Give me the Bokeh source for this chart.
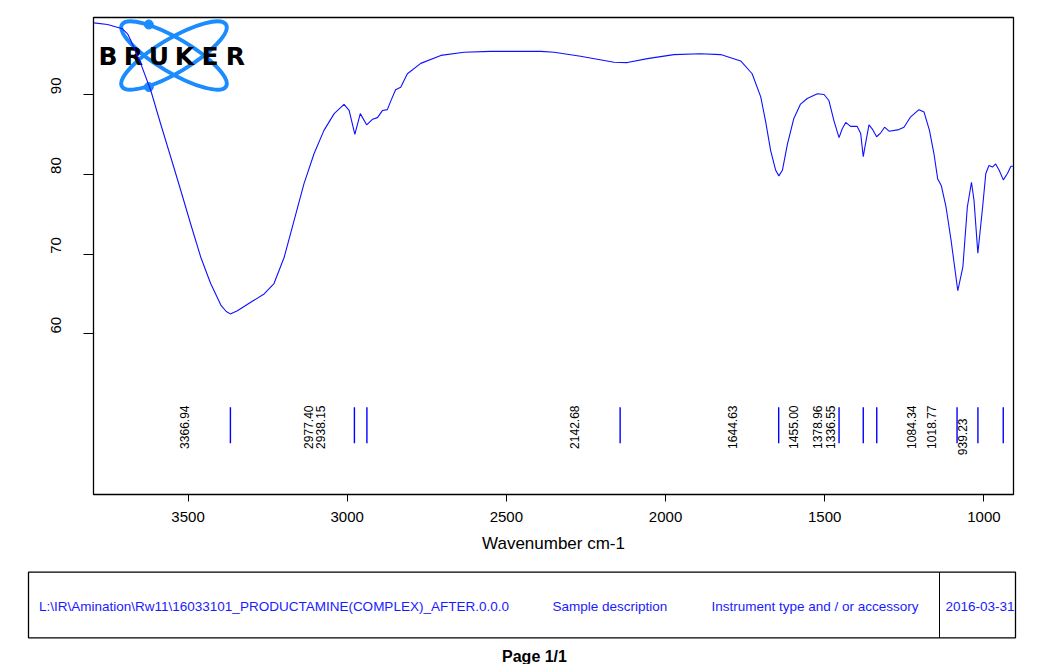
import math
from bokeh.plotting import figure
from bokeh.models import Range1d, FixedTicker, ColumnDataSource, LinearAxis
from bokeh.layouts import column
from bokeh.embed import file_html
from bokeh.resources import INLINE
from bokeh.core.properties import value

# ---------------- data ----------------
wavenumber = [3795, 3753, 3706, 3690, 3680, 3648, 3617, 3586, 3554, 3523,
              3492, 3460, 3429, 3397, 3380, 3367, 3345, 3313, 3293, 3261,
              3230, 3198, 3167, 3136, 3104, 3073, 3041, 3010, 2994, 2976,
              2959, 2939, 2920, 2905, 2889, 2874, 2863, 2848, 2832, 2811,
              2769, 2706, 2633, 2550, 2476, 2392, 2350, 2267, 2162, 2120,
              2057, 1974, 1890, 1827, 1764, 1728, 1701, 1686, 1670, 1654,
              1644, 1633, 1617, 1597, 1576, 1555, 1523, 1502, 1487, 1471,
              1455, 1445, 1434, 1419, 1398, 1387, 1379, 1372, 1361, 1351,
              1337, 1324, 1312, 1298, 1267, 1251, 1230, 1204, 1188, 1171,
              1157, 1145, 1134, 1119, 1103, 1082, 1066, 1052, 1039, 1031,
              1019, 1004, 994, 984, 973, 963, 952, 939, 926, 915, 907]
transmittance = [98.98, 98.77, 98.23, 97.6, 96.8, 93.8, 90.5, 86.3, 82.1, 78.0,
                 73.8, 69.6, 66.3, 63.6, 62.8, 62.5, 62.9, 63.7, 64.2, 65.0,
                 66.3, 69.6, 74.2, 78.8, 82.6, 85.5, 87.6, 88.75, 88.0, 85.0,
                 87.6, 86.2, 86.9, 87.1, 88.0, 88.1, 89.2, 90.6, 90.9, 92.6,
                 93.9, 94.9, 95.3, 95.4, 95.4, 95.4, 95.3, 94.8, 94.05, 94.0,
                 94.5, 95.0, 95.1, 95.0, 94.2, 92.6, 89.7, 86.7, 83.0, 80.5,
                 79.8, 80.5, 83.8, 87.0, 88.8, 89.5, 90.1, 90.0, 89.25, 86.7,
                 84.6, 85.7, 86.5, 86.0, 86.0, 85.1, 82.2, 83.8, 86.2, 85.7,
                 84.7, 85.2, 85.9, 85.4, 85.6, 85.9, 87.2, 88.1, 87.8, 85.5,
                 82.6, 79.4, 78.6, 75.9, 71.7, 65.4, 68.4, 75.9, 79.0, 76.7,
                 70.1, 75.9, 80.1, 81.1, 80.9, 81.3, 80.5, 79.3, 80.1, 81.0, 81.0]

peak_wavenumbers = [3366.94, 2977.40, 2938.15, 2142.68, 1644.63, 1455.00,
                    1378.96, 1336.55, 1084.34, 1018.77, 939.23]
peak_labels = ["3366.94", "2977.40", "2938.15", "2142.68", "1644.63", "1455.00",
               "1378.96", "1336.55", "1084.34", "1018.77", "939.23"]

x_ticks = [3500, 3000, 2500, 2000, 1500, 1000]
y_ticks = [60, 70, 80, 90]
x_axis_title = "Wavenumber cm-1"

footer_path = "L:\\IR\\Amination\\Rw11\\16033101_PRODUCTAMINE(COMPLEX)_AFTER.0.0.0"
footer_sample = "Sample description"
footer_instrument = "Instrument type and / or accessory"
footer_date = "2016-03-31"
page_text = "Page 1/1"
logo_text = "BRUKER"

# ---------------- layout ----------------
X_START, X_END = 3797, 907
Y_START, Y_END = 39.86, 99.65
FRAME_L, FRAME_T, FRAME_W, FRAME_H = 93, 17, 920, 477
FONT = "Liberation Sans"
CURVE_BLUE = "#1010ff"
LOGO_BLUE = "#1a8cff"


def px_x(px):
    return X_START + (px - FRAME_L) * (X_END - X_START) / FRAME_W


def px_y(py):
    return Y_END - (py - FRAME_T) * (Y_END - Y_START) / FRAME_H


p = figure(width=1040, height=560, output_backend="svg", toolbar_location=None,
           x_range=Range1d(X_START, X_END), y_range=Range1d(Y_START, Y_END),
           min_border_left=FRAME_L, min_border_right=1040 - FRAME_L - FRAME_W,
           min_border_top=FRAME_T, min_border_bottom=560 - FRAME_T - FRAME_H,
           frame_align=False)
p.background_fill_color = "white"
p.border_fill_color = "white"
p.outline_line_color = "black"
p.outline_line_width = 1.3
p.grid.visible = False

xax = p.xaxis[0]
xax.ticker = FixedTicker(ticks=x_ticks)
xax.major_tick_out = 7
xax.major_tick_in = 0
xax.minor_tick_line_color = None
xax.axis_line_color = "black"
xax.major_tick_line_color = "black"
xax.major_label_text_font = FONT
xax.major_label_text_font_size = "15px"
xax.major_label_text_color = "black"
xax.major_label_standoff = 10
xax.axis_label = x_axis_title
xax.axis_label_text_font = FONT
xax.axis_label_text_font_size = "17px"
xax.axis_label_text_font_style = "normal"
xax.axis_label_text_color = "black"
xax.axis_label_standoff = 9

# inner y axis: tick marks only
yax = p.yaxis[0]
yax.ticker = FixedTicker(ticks=y_ticks)
yax.major_tick_out = 10
yax.major_tick_in = 0
yax.minor_tick_line_color = None
yax.axis_line_color = "black"
yax.major_tick_line_color = "black"
yax.major_label_overrides = {v: "" for v in y_ticks}
yax.major_label_standoff = 0

# outer y axis: tick labels, shifted so that each label starts at its tick
shift = (94 - 77) * (Y_END - Y_START) / FRAME_H
p.extra_y_ranges = {"ylab": Range1d(Y_START - shift, Y_END - shift)}
lab_axis = LinearAxis(y_range_name="ylab", ticker=FixedTicker(ticks=y_ticks),
                      major_tick_out=0, major_tick_in=0, minor_tick_out=0,
                      minor_tick_in=0, axis_line_color=None,
                      major_tick_line_color=None, minor_tick_line_color=None,
                      major_label_orientation=math.pi / 2, major_label_standoff=27,
                      major_label_text_font=FONT, major_label_text_font_size="15px",
                      major_label_text_color="black")
p.add_layout(lab_axis, "left")

# logo
cx, cy = px_x(173.5), px_y(55)
p.ellipse(x=[cx, cx], y=[cy, cy], width=121, height=34, angle=[0.536, -0.536],
          width_units="screen", height_units="screen", fill_color=None,
          line_color=LOGO_BLUE, line_width=4)
p.scatter(x=[px_x(148.3), px_x(148.3)], y=[px_y(24), px_y(86.5)], size=9,
          color=LOGO_BLUE, line_color=LOGO_BLUE)
letter_px = [107.5, 133, 158.5, 184, 209.5, 235]
p.text(x=[px_x(v) for v in letter_px], y=[px_y(55.5)] * len(letter_px),
       text=list(logo_text), text_font=value("DejaVu Sans"), text_font_style="bold",
       text_font_size="25px", text_align="center", text_baseline="middle",
       text_color="black")

# spectrum
p.line(wavenumber, transmittance, line_color=CURVE_BLUE, line_width=1.1)

# peak markers
mark_bottom, mark_top = px_y(442.7), px_y(406.7)
p.segment(x0=peak_wavenumbers, x1=peak_wavenumbers,
          y0=[mark_bottom] * len(peak_wavenumbers), y1=[mark_top] * len(peak_wavenumbers),
          line_color="#0000ff", line_width=1.4)
label_dx = [-46.0] * len(peak_wavenumbers)
label_dy = [0.0] * len(peak_wavenumbers)
label_dx[-1] = -41.0
label_dy[-1] = 13.0
src = ColumnDataSource(dict(x=peak_wavenumbers, y=[px_y(405)] * len(peak_wavenumbers),
                            text=peak_labels, dx=label_dx, dy=label_dy))
p.text(x="x", y="y", text="text", x_offset="dx", y_offset="dy", source=src,
       angle=math.pi / 2, text_align="right", text_baseline="middle",
       text_font=value(FONT), text_font_size="12px", text_color="black")

# ---------------- footer ----------------
f = figure(width=1040, height=104, output_backend="svg", toolbar_location=None,
           x_range=Range1d(0, 1040), y_range=Range1d(104, 0),
           x_axis_type=None, y_axis_type=None, min_border=0, frame_align=False)
f.outline_line_color = None
f.grid.visible = False
f.background_fill_color = "white"
f.border_fill_color = "white"
f.quad(left=[28], right=[1015], top=[11.7], bottom=[77.3], fill_color=None,
       line_color="black", line_width=1.3)
f.segment(x0=[939], x1=[939], y0=[11.7], y1=[77.3], line_color="black", line_width=1)
FOOT_BLUE = "#1a1aff"
f.text(x=[38.5, 552, 711, 945], y=[45.7] * 4,
       text=[footer_path, footer_sample, footer_instrument, footer_date],
       text_font=value(FONT), text_font_size="13.5px", text_align="left",
       text_baseline="middle", text_color=FOOT_BLUE)
f.text(x=[534], y=[95.5], text=[page_text], text_font=value(FONT),
       text_font_size="16px", text_font_style="bold", text_align="center",
       text_baseline="middle", text_color="black")

layout = column(p, f, spacing=0)
open("out.html", "w").write(file_html(layout, INLINE))
